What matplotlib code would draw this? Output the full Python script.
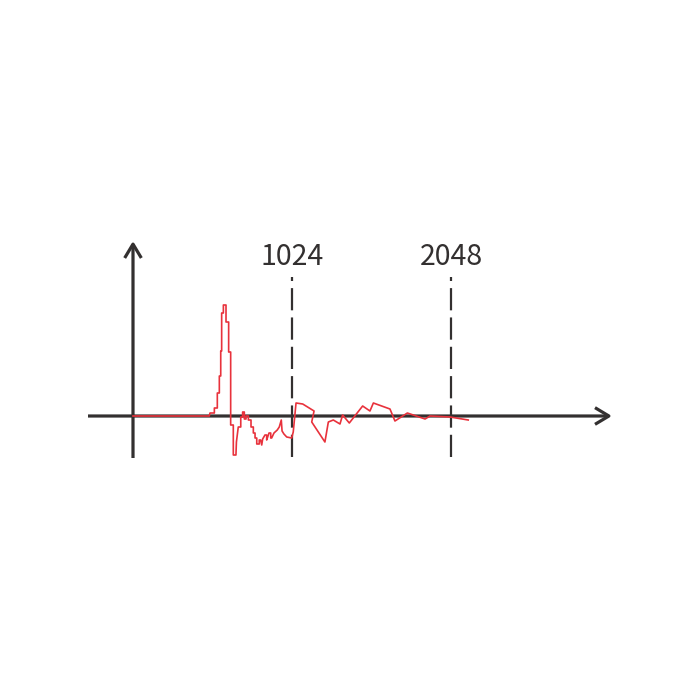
import matplotlib.pyplot as plt

plt.rcParams['font.family'] = ['Noto Sans CJK SC', 'DejaVu Sans']

# red signal (x in samples, y in pixel-ish units)
sig_x = [0, 491, 496, 524, 524, 543, 543, 556, 556, 565, 565, 571, 571, 582, 582,
         599, 599, 616, 616, 629, 629, 646, 646, 663, 666, 678, 694, 694, 706, 706,
         717, 717, 728, 728, 743, 743, 760, 760, 775, 775, 786, 786, 797, 797, 813,
         813, 822, 829, 835, 850, 861, 861, 876, 887, 887, 893, 908, 929, 942, 955,
         960, 972, 990, 1022, 1032, 1050, 1093, 1166, 1151, 1236, 1258, 1290, 1333,
         1350, 1393, 1479, 1526, 1548, 1655, 1687, 1767, 1881, 1913, 2042, 2159]
sig_y = [0, 0, 3, 3, 8, 8, 23, 23, 40, 40, 65, 65, 103, 103, 111,
         111, 94, 94, 64, 64, -9, -9, -39, -39, -26, -11, -11, -1, -1, 4,
         4, -3, -3, 0, 0, -4, -4, -11, -11, -17, -17, -22, -22, -28, -28,
         -24, -24, -29, -23, -19, -19, -24, -17, -17, -22, -22, -17, -14, -11, -4,
         -15, -18, -21, -22, -16, 13, 12, 5, -6, -26, -6, -4, -8,
         1, -7, 10, 5, 13, 7, -5, 3, -3, 0, -1, -4]

marks = [1024, 2048]
mark_labels = ['1024', '2048']

AXIS_COL = '#333030'
RED = '#e8323c'

fig = plt.figure(figsize=(7, 7), dpi=100)
ax = fig.add_axes([0, 0, 1, 1])
ax.axis('off')
px = 1024 / 159
ax.set_xlim(-133 * px, (700 - 133) * px)
ax.set_ylim(-284, 416)

# dashed markers
for m, lab in zip(marks, mark_labels):
    ax.plot([m, m], [-41, 139], color=AXIS_COL, lw=1.6, dashes=(10, 3.2), zorder=1)
    ax.text(m, 159, lab, ha='center', va='center', fontsize=20.5, color=AXIS_COL)

# axes with arrows
arrow = dict(arrowstyle='->,head_length=1.0,head_width=0.6', lw=2.3,
             color=AXIS_COL, shrinkA=0, shrinkB=0, capstyle='butt')
ax.annotate('', xy=(612 * px - 133 * px, 0), xytext=(88 * px - 133 * px, 0),
            arrowprops=arrow, zorder=2)
ax.annotate('', xy=(0, 175), xytext=(0, -42), arrowprops=arrow, zorder=2)

ax.plot(sig_x, sig_y, color=RED, lw=1.2, zorder=3)

fig.savefig('out.png', dpi=100)
